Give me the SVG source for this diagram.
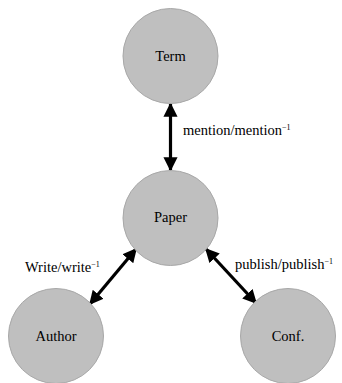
<svg xmlns="http://www.w3.org/2000/svg" width="342" height="383" viewBox="0 0 342 383">
<defs>
<marker id="ah" viewBox="0 0 10 10" refX="9" refY="5" markerWidth="4.4" markerHeight="4.4" orient="auto-start-reverse" markerUnits="strokeWidth">
<path d="M0,0 L10,5 L0,10 Z" fill="#000"/>
</marker>
</defs>
<rect width="342" height="383" fill="#fff"/>
<g id="connectors" stroke="#000" stroke-width="3.2" fill="none" marker-start="url(#ah)" marker-end="url(#ah)">
<line x1="170.5" y1="104" x2="170.5" y2="170"/>
<line x1="136" y1="249" x2="90" y2="304"/>
<line x1="206" y1="249" x2="256" y2="303"/>
</g>
<g id="term"><circle cx="170.5" cy="56" r="47.5" fill="#bfbfbf" stroke="#a8a8a8"/><text x="170.5" y="61" font-family="Liberation Serif" font-size="14.5" text-anchor="middle">Term</text></g>
<g id="paper"><circle cx="170.5" cy="218" r="47.5" fill="#bfbfbf" stroke="#a8a8a8"/><text x="170.5" y="222" font-family="Liberation Serif" font-size="14.5" text-anchor="middle">Paper</text></g>
<g id="author"><circle cx="56" cy="336" r="47.5" fill="#bfbfbf" stroke="#a8a8a8"/><text x="56" y="341" font-family="Liberation Serif" font-size="14.5" text-anchor="middle">Author</text></g>
<g id="conf"><circle cx="288" cy="336" r="47.5" fill="#bfbfbf" stroke="#a8a8a8"/><text x="288" y="341" font-family="Liberation Serif" font-size="14.5" text-anchor="middle">Conf.</text></g>
<g id="labels">
<text x="183" y="135" font-family="Liberation Serif" font-size="14.5">mention/mention<tspan font-size="8" dy="-5">−1</tspan></text>
<text x="25" y="272" font-family="Liberation Serif" font-size="14.5">Write/write<tspan font-size="8" dy="-5">−1</tspan></text>
<text x="235" y="269" font-family="Liberation Serif" font-size="14.5">publish/publish<tspan font-size="8" dy="-5">−1</tspan></text>
</g>
</svg>
